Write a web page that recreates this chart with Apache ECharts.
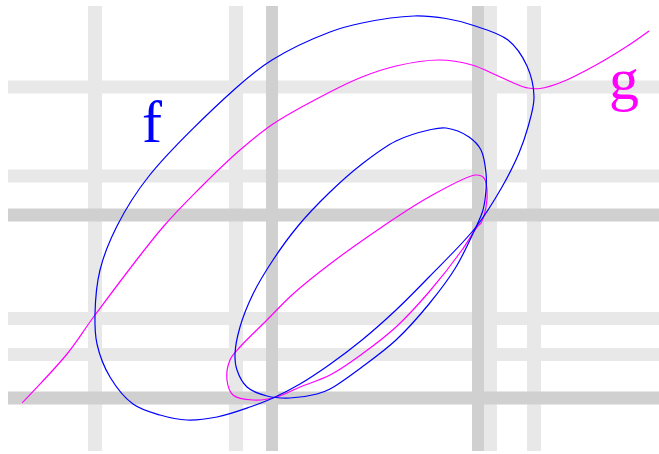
<!DOCTYPE html>
<html>
<head>
<meta charset="utf-8">
<script src="https://cdn.jsdelivr.net/npm/echarts@6/dist/echarts.min.js"></script>
<style>
  html, body { margin: 0; padding: 0; background: #ffffff; }
  #chart { width: 659px; height: 454px; }
</style>
</head>
<body>
<div id="chart"></div>
<script>
// Reference lines (x positions of vertical bands, y positions of horizontal bands)
const verticalLight = [-1.77, -0.36, 2.18, 2.62];
const verticalDark = [0, 2.06];
const horizontalLight = [3.11, 2.22, 0.795, 0.435];
const horizontalDark = [0, 1.83];
const verticalSpan = [-0.53, 3.92];
const horizontalSpan = [-2.64, 3.95];

// Curve f: outer closed branch
const fOuter = [
  [0.58, 3.66], [0, 3.38], [-0.36, 3.10], [-1.23, 2.22], [-1.55, 1.72],
  [-1.72, 1.28], [-1.77, 0.84], [-1.75, 0.54], [-1.62, 0.21], [-1.39, -0.06],
  [-1.12, -0.17], [-0.85, -0.22], [-0.55, -0.19], [-0.22, -0.09], [0.01, 0],
  [0.28, 0.14], [0.57, 0.33], [0.90, 0.58], [1.24, 0.88], [1.57, 1.21],
  [2.04, 1.71], [2.30, 2.11], [2.47, 2.45], [2.56, 2.71], [2.62, 3.01],
  [2.55, 3.32], [2.36, 3.58], [2.00, 3.73], [1.74, 3.795], [1.42, 3.82],
  [0.90, 3.75], [0.58, 3.66]
];

// Curve f: inner closed branch
const fInner = [
  [1.74, 2.70], [1.57, 2.68], [1.24, 2.57], [0.90, 2.34], [0.57, 2.05],
  [0.26, 1.72], [0.01, 1.38], [-0.19, 1.04], [-0.32, 0.71], [-0.37, 0.44],
  [-0.35, 0.28], [-0.25, 0.11], [-0.05, 0.02], [0.18, 0], [0.45, 0.04],
  [0.58, 0.09], [0.90, 0.31], [1.24, 0.58], [1.57, 0.94], [1.84, 1.31],
  [2.04, 1.71], [2.11, 1.88], [2.14, 2.08], [2.14, 2.25], [2.09, 2.48],
  [1.97, 2.61], [1.74, 2.70]
];

// Curve g: open branch
const gMain = [
  [-2.50, -0.05], [-2.05, 0.44], [-1.77, 0.83], [-1.09, 1.71], [-0.72, 2.10],
  [-0.32, 2.48], [0.01, 2.74], [0.58, 3.06], [0.90, 3.21], [1.24, 3.32],
  [1.67, 3.38], [2.00, 3.33], [2.24, 3.23], [2.44, 3.14], [2.56, 3.10],
  [2.68, 3.095], [2.90, 3.16], [3.24, 3.33], [3.57, 3.53], [3.77, 3.67]
];

// Curve g: closed branch
const gLoop = [
  [2.04, 2.23], [2.12, 2.20], [2.15, 2.08], [2.14, 1.91], [2.09, 1.75],
  [2.05, 1.71], [1.90, 1.48], [1.57, 1.06], [1.24, 0.71], [0.90, 0.44],
  [0.58, 0.23], [0.28, 0.11], [0.05, 0.01], [-0.19, -0.02], [-0.39, 0.03],
  [-0.45, 0.18], [-0.42, 0.38], [-0.32, 0.51], [-0.05, 0.78], [0.21, 1.04],
  [0.58, 1.34], [1.10, 1.71], [1.57, 2.01], [2.04, 2.23]
];

const LIGHT = '#e8e8e8';
const DARK = '#d0d0d0';

function band(points, color, width, z) {
  return {
    type: 'line', data: points, symbol: 'none', silent: true, z: z,
    lineStyle: { color: color, width: width, cap: 'butt' }
  };
}
const bands = [];
verticalLight.forEach(x => bands.push(band([[x, verticalSpan[0]], [x, verticalSpan[1]]], LIGHT, 14, 1)));
horizontalLight.forEach(y => bands.push(band([[horizontalSpan[0], y], [horizontalSpan[1], y]], LIGHT, 13, 1)));
verticalDark.forEach(x => bands.push(band([[x, verticalSpan[0]], [x, verticalSpan[1]]], DARK, 12, 2)));
horizontalDark.forEach(y => bands.push(band([[horizontalSpan[0], y], [horizontalSpan[1], y]], DARK, 13, 2)));

// Smooth curve through the series points (centripetal Catmull-Rom drawn as cubic Beziers).
function curve(points, color, closed) {
  return {
    type: 'custom', data: points, silent: true, clip: false, z: 10,
    encode: { x: 0, y: 1 },
    renderItem: function (params, api) {
      if (params.dataIndexInside !== 0) return null;
      const n = params.dataInsideLength;
      const pts = [];
      for (let k = 0; k < n; k++) pts.push(api.coord([api.value(0, k), api.value(1, k)]));
      const at = function (k) {
        if (closed) {
          const m = n - 1;
          return pts[((k % m) + m) % m];
        }
        return pts[Math.max(0, Math.min(n - 1, k))];
      };
      const dist = function (a, b) {
        return Math.pow(Math.hypot(b[0] - a[0], b[1] - a[1]), 0.5) || 1e-6;
      };
      let d = 'M' + pts[0][0] + ' ' + pts[0][1];
      for (let i = 0; i < n - 1; i++) {
        const p0 = at(i - 1), p1 = at(i), p2 = at(i + 1), p3 = at(i + 2);
        const d1 = dist(p0, p1), d2 = dist(p1, p2), d3 = dist(p2, p3);
        const c1 = [0, 1].map(j => (d1 * d1 * p2[j] - d2 * d2 * p0[j] +
          (2 * d1 * d1 + 3 * d1 * d2 + d2 * d2) * p1[j]) / (3 * d1 * (d1 + d2)));
        const c2 = [0, 1].map(j => (d3 * d3 * p1[j] - d2 * d2 * p3[j] +
          (2 * d3 * d3 + 3 * d3 * d2 + d2 * d2) * p2[j]) / (3 * d3 * (d3 + d2)));
        d += ' C' + c1[0] + ' ' + c1[1] + ' ' + c2[0] + ' ' + c2[1] + ' ' + p2[0] + ' ' + p2[1];
      }
      return {
        type: 'path',
        shape: { pathData: d },
        style: { stroke: color, fill: null, lineWidth: 1.2 }
      };
    }
  };
}

const chart = echarts.init(document.getElementById('chart'), null, { renderer: 'canvas' });
chart.setOption({
  animation: false,
  backgroundColor: '#ffffff',
  grid: { left: 0, right: 0, top: 0, bottom: 0 },
  xAxis: { type: 'value', min: -2.72, max: 3.87, show: false },
  yAxis: { type: 'value', min: -0.56, max: 3.98, show: false },
  graphic: [
    { type: 'text', x: 152, y: 126, silent: true, z: 20,
      style: { text: 'f', font: '60px "Liberation Serif", serif', fill: '#0000ff',
               textAlign: 'center', textVerticalAlign: 'middle' } },
    { type: 'text', x: 624, y: 83, silent: true, z: 20,
      style: { text: 'g', font: '60px "Liberation Serif", serif', fill: '#ff00ff',
               textAlign: 'center', textVerticalAlign: 'middle' } }
  ],
  series: bands.concat([
    curve(gMain, '#ff00ff', false),
    curve(gLoop, '#ff00ff', true),
    curve(fOuter, '#0000ff', true),
    curve(fInner, '#0000ff', true)
  ])
});
</script>
</body>
</html>
